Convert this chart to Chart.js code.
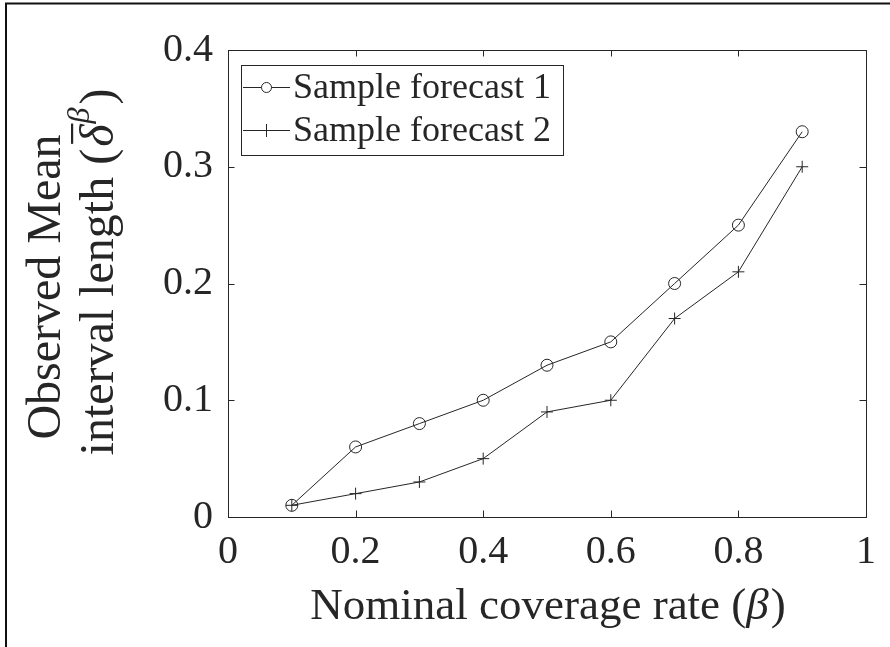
<!DOCTYPE html>
<html>
<head>
<meta charset="utf-8">
<script src="https://cdn.jsdelivr.net/npm/chart.js@4"></script>
<style>
  html, body { margin: 0; padding: 0; background: #fff; }
  #wrap { width: 890px; height: 647px; position: relative; }
</style>
</head>
<body>
<div id="wrap"><canvas id="c" width="890" height="647"></canvas></div>
<script>
// ---- data ----
const coverage = [0.1, 0.2, 0.3, 0.4, 0.5, 0.6, 0.7, 0.8, 0.9];
const forecast1 = [0.01, 0.06, 0.08, 0.10, 0.13, 0.15, 0.20, 0.25, 0.33];
const forecast2 = [0.01, 0.02, 0.03, 0.05, 0.09, 0.10, 0.17, 0.21, 0.30];
const seriesNames = ['Sample forecast 1', 'Sample forecast 2'];
const xTicks = [0, 0.2, 0.4, 0.6, 0.8, 1];
const yTicks = [0, 0.1, 0.2, 0.3, 0.4];
const xTitle = ['Nominal coverage rate (', 'β', ')'];
const yTitleLine1 = 'Observed Mean';
const yTitleLine2 = 'interval length (';

const INK = '#262626';
const SERIF = '"Liberation Serif", "Times New Roman", serif';

function pts(ys) { return coverage.map((x, i) => ({ x: x, y: ys[i] })); }
function fmt(v) { return String(Number(v.toFixed(2))); }

const boxTicksPlugin = {
  id: 'boxTicks',
  afterDatasetsDraw(chart) {
    const ctx = chart.ctx, a = chart.chartArea;
    const xs = chart.scales.x, ys = chart.scales.y;
    const L = 6.5;
    ctx.save();
    ctx.strokeStyle = INK;
    ctx.lineWidth = 1;
    ctx.beginPath();
    xTicks.forEach(v => {
      const px = Math.round(xs.getPixelForValue(v)) + 0.5;
      ctx.moveTo(px, a.bottom); ctx.lineTo(px, a.bottom - L);
      ctx.moveTo(px, a.top); ctx.lineTo(px, a.top + L);
    });
    yTicks.forEach(v => {
      const py = Math.round(ys.getPixelForValue(v)) + 0.5;
      ctx.moveTo(a.left, py); ctx.lineTo(a.left + L, py);
      ctx.moveTo(a.right, py); ctx.lineTo(a.right - L, py);
    });
    ctx.stroke();
    ctx.strokeRect(Math.round(a.left) + 0.5, Math.round(a.top) + 0.5,
                   Math.round(a.right - a.left), Math.round(a.bottom - a.top));

    // legend
    const lx = a.left + 13, ly = a.top + 15, lw = 322, lh = 90;
    ctx.fillStyle = '#fff';
    ctx.fillRect(lx, ly, lw, lh);
    ctx.strokeRect(Math.round(lx) + 0.5, Math.round(ly) + 0.5, lw, lh);
    const rows = [ly + 22, ly + 65];
    const styles = ['circle', 'cross'];
    ctx.font = '36px ' + SERIF;
    ctx.textBaseline = 'middle';
    ctx.textAlign = 'left';
    ctx.fillStyle = INK;
    rows.forEach((ry, i) => {
      ctx.beginPath();
      ctx.moveTo(lx + 2, ry + 0.5); ctx.lineTo(lx + 49, ry + 0.5);
      ctx.stroke();
      const cx = lx + 25.5;
      ctx.beginPath();
      if (styles[i] === 'circle') {
        ctx.fillStyle = '#fff';
        ctx.arc(cx, ry + 0.5, 5, 0, Math.PI * 2);
        ctx.fill();
        ctx.stroke();
      } else {
        ctx.moveTo(cx, ry - 6); ctx.lineTo(cx, ry + 7);
        ctx.stroke();
      }
      ctx.fillStyle = INK;
      ctx.fillText(seriesNames[i], lx + 52, ry + 2);
    });
    ctx.restore();
  },
  afterDraw(chart) {
    const ctx = chart.ctx, a = chart.chartArea;
    ctx.save();
    ctx.fillStyle = INK;
    // outer frame (top and left)
    ctx.strokeStyle = '#111';
    ctx.lineWidth = 2;
    ctx.beginPath();
    ctx.moveTo(6, 647); ctx.lineTo(6, 3.5); ctx.lineTo(890, 3.5);
    ctx.stroke();

    // x title
    const fN = '45px ' + SERIF, fI = 'italic 45px ' + SERIF;
    ctx.textBaseline = 'alphabetic';
    ctx.textAlign = 'left';
    ctx.font = fN; const w0 = ctx.measureText(xTitle[0]).width, w2 = ctx.measureText(xTitle[2]).width;
    ctx.font = fI; const w1 = ctx.measureText(xTitle[1]).width;
    let x = (a.left + a.right) / 2 - (w0 + w1 + w2) / 2;
    const by = 619;
    ctx.font = fN; ctx.fillText(xTitle[0], x, by); x += w0;
    ctx.font = fI; ctx.fillText(xTitle[1], x, by); x += w1 + 2;
    ctx.font = fN; ctx.fillText(xTitle[2], x, by);

    // y title (rotated)
    const fs = 48;
    const yN = fs + 'px ' + SERIF, yI = 'italic ' + fs + 'px ' + SERIF, ySup = 'italic 32px ' + SERIF;
    ctx.save();
    ctx.rotate(-Math.PI / 2);
    // line 1
    ctx.font = yN;
    const l1 = ctx.measureText(yTitleLine1).width;
    ctx.fillText(yTitleLine1, -287 - l1 / 2, 60);
    // line 2
    ctx.font = yN; const p0 = ctx.measureText(yTitleLine2).width;
    ctx.font = yI; const p1 = ctx.measureText('δ').width;
    ctx.font = ySup; const p2 = ctx.measureText('β').width;
    ctx.font = yN; const p3 = ctx.measureText(')').width;
    const tot = p0 + p1 + p2 + p3 + 6;
    let t = -272 - tot / 2;
    const b2 = 113;
    ctx.font = yN; ctx.fillText(yTitleLine2, t, b2); t += p0 + 2;
    ctx.font = yI; ctx.fillText('δ', t, b2);
    ctx.fillRect(t + 3, b2 - 42, p1 - 2, 2.2);
    t += p1 + 1;
    ctx.font = ySup; ctx.fillText('β', t, b2 - 24); t += p2 + 3;
    ctx.font = yN; ctx.fillText(')', t, b2);
    ctx.restore();
    ctx.restore();
  }
};

new Chart(document.getElementById('c'), {
  type: 'line',
  data: {
    datasets: [
      {
        label: seriesNames[0],
        data: pts(forecast1),
        borderColor: INK,
        borderWidth: 1,
        pointStyle: 'circle',
        pointRadius: 6,
        pointBorderWidth: 1,
        pointBorderColor: INK,
        pointBackgroundColor: 'rgba(0,0,0,0)',
        tension: 0,
        fill: false
      },
      {
        label: seriesNames[1],
        data: pts(forecast2),
        borderColor: INK,
        borderWidth: 1,
        pointStyle: 'cross',
        pointRadius: 6,
        pointBorderWidth: 1,
        pointBorderColor: INK,
        pointBackgroundColor: INK,
        tension: 0,
        fill: false
      }
    ]
  },
  options: {
    responsive: false,
    animation: false,
    events: [],
    layout: { padding: { left: 0, top: 50, right: 24, bottom: 0 } },
    plugins: { legend: { display: false }, tooltip: { enabled: false }, title: { display: false } },
    scales: {
      x: {
        type: 'linear',
        min: 0, max: 1,
        grid: { display: false, drawTicks: false },
        border: { display: false },
        afterBuildTicks(s) { s.ticks = xTicks.map(v => ({ value: v })); },
        afterFit(s) { s.height = 130; },
        ticks: {
          padding: 11,
          color: INK,
          font: { family: SERIF, size: 40 },
          maxRotation: 0,
          callback: v => fmt(v)
        }
      },
      y: {
        type: 'linear',
        min: 0, max: 0.4,
        grid: { display: false, drawTicks: false },
        border: { display: false },
        afterBuildTicks(s) { s.ticks = yTicks.map(v => ({ value: v })); },
        afterFit(s) { s.width = 228; },
        ticks: {
          padding: 15,
          color: INK,
          font: { family: SERIF, size: 40 },
          callback: v => fmt(v)
        }
      }
    }
  },
  plugins: [boxTicksPlugin]
});
</script>
</body>
</html>
